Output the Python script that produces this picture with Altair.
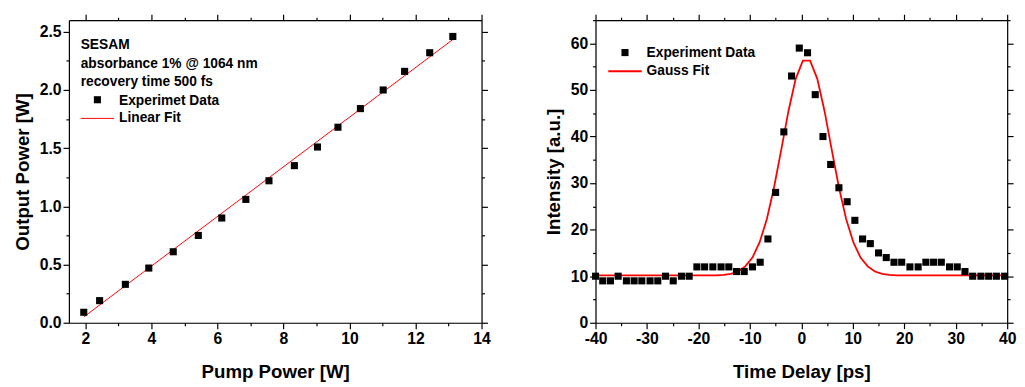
import altair as alt
import pandas as pd

# ---------------- Left panel: output power vs pump power ----------------
pump_power = [1.95, 2.43, 3.21, 3.92, 4.66, 5.42, 6.13, 6.86, 7.56, 8.33,
              9.03, 9.65, 10.33, 11.02, 11.67, 12.43, 13.13]
output_power = [0.09, 0.19, 0.33, 0.47, 0.61, 0.75, 0.90, 1.06, 1.22, 1.35,
                1.51, 1.68, 1.84, 2.00, 2.16, 2.32, 2.46]
linfit_x = [1.95, 13.16]
linfit_y = [0.05, 2.44]
left_notes = ["SESAM", "absorbance 1% @ 1064 nm", "recovery time 500 fs"]
left_legend = ["Experimet Data", "Linear Fit"]
left_xticks = [2, 3, 4, 5, 6, 7, 8, 9, 10, 11, 12, 13, 14]
left_yticks = [0, 0.25, 0.5, 0.75, 1.0, 1.25, 1.5, 1.75, 2.0, 2.25, 2.5]

# ---------------- Right panel: autocorrelation ----------------
delay = [-40.0, -38.6, -37.1, -35.6, -34.0, -32.5, -31.0, -29.4, -27.9, -26.4,
         -24.9, -23.3, -21.8, -20.3, -18.8, -17.2, -15.6, -14.1, -12.6, -11.1,
         -9.5, -8.0, -6.5, -5.0, -3.4, -1.9, -0.4, 1.2, 2.7, 4.2,
         5.7, 7.3, 8.9, 10.4, 11.9, 13.4, 15.0, 16.5, 18.0, 19.5,
         21.1, 22.7, 24.2, 25.7, 27.2, 28.8, 30.3, 31.8, 33.3, 34.9,
         36.4, 37.9, 39.5]
intensity = [10, 9, 9, 10, 9, 9, 9, 9, 9, 10,
             9, 10, 10, 12, 12, 12, 12, 12, 11, 11,
             12, 13, 18, 28, 41, 53, 59, 58, 49, 40,
             34, 29, 26, 22, 18, 17, 15, 14, 13, 13,
             12, 12, 13, 13, 13, 12, 12, 11, 10, 10,
             10, 10, 10]
gauss_x = [-40, -16.5, -15.1, -13.7, -12.3, -10.9, -9.5, -8.1, -6.7, -5.3,
           -3.9, -2.5, -1.1, 0.3, 1.7, 3.1, 4.5, 5.9, 7.3, 8.7,
           10.1, 11.5, 12.9, 14.3, 15.7, 17.1, 18.5, 40]
gauss_y = [10.2, 10.2, 10.3, 10.5, 11.0, 12.1, 14.0, 17.3, 22.3, 29.1,
           37.2, 45.5, 52.4, 56.3, 56.3, 52.4, 45.5, 37.2, 29.1, 22.3,
           17.3, 14.0, 12.1, 11.0, 10.5, 10.3, 10.2, 10.2]
right_legend = ["Experiment Data", "Gauss Fit"]
right_xticks = [-40, -35, -30, -25, -20, -15, -10, -5, 0, 5, 10, 15, 20, 25, 30, 35, 40]
right_yticks = [0, 5, 10, 15, 20, 25, 30, 35, 40, 45, 50, 55, 60, 65]

FONT = "Liberation Sans"
W, H = 420, 308
MARK = 52


def make_axis(values, major, fmt, orient, title=None, labels=True, tpad=8):
    kw = dict(values=values, orient=orient, grid=False, ticks=True,
              tickSize={"condition": {"test": major, "value": 6}, "value": 3},
              tickColor="black", tickWidth=1.2, domainColor="black", domainWidth=1.2,
              labels=labels)
    if labels:
        kw.update(labelExpr=f"{major} ? {fmt} : ''", labelFont=FONT, labelFontSize=16,
                  labelFontWeight="bold", labelColor="black", labelPadding=2,
                  labelFlush=False, labelOverlap=False)
    if title:
        kw.update(title=title, titleFont=FONT, titleFontSize=19, titleFontWeight="bold",
                  titleColor="black", titlePadding=tpad)
    else:
        kw["title"] = None
    return alt.Axis(**kw)


def text_layer(txt, x, y, size=14):
    return alt.Chart(pd.DataFrame({"t": [txt]})).mark_text(
        align="left", baseline="middle", font=FONT, fontSize=size,
        fontWeight="bold", color="black"
    ).encode(x=alt.value(x), y=alt.value(y), text="t:N")


def sym_square(x, y):
    return alt.Chart(pd.DataFrame({"s": [0]})).mark_square(
        size=MARK, color="black", opacity=1
    ).encode(x=alt.value(x), y=alt.value(y))


def sym_line(x1, x2, y, width):
    return alt.Chart(pd.DataFrame({"s": [0]})).mark_rule(
        color="#ff0000", strokeWidth=width
    ).encode(x=alt.value(x1), x2=alt.value(x2), y=alt.value(y))


# ---------- left chart ----------
lx = alt.Scale(domain=[1.5, 14], nice=False, zero=False)
ly = alt.Scale(domain=[0, 2.6], nice=False, zero=False)

left_pts = alt.Chart(pd.DataFrame({"x": pump_power, "y": output_power})).mark_square(
    size=MARK, color="black", opacity=1
).encode(
    x=alt.X("x:Q", scale=lx, axis=make_axis(left_xticks, "datum.value % 2 === 0",
                                            "'' + datum.value", "bottom", "Pump Power [W]", tpad=17)),
    y=alt.Y("y:Q", scale=ly, axis=make_axis(left_yticks, "datum.value % 0.5 === 0",
                                            "format(datum.value, '.1f')", "left", "Output Power [W]", tpad=7)),
)
left_fit = alt.Chart(pd.DataFrame({"x": linfit_x, "y": linfit_y})).mark_line(
    color="#ff0000", strokeWidth=1
).encode(
    x=alt.X("x:Q", scale=lx, axis=make_axis(left_xticks, "datum.value % 2 === 0", "", "top", labels=False)),
    y=alt.Y("y:Q", scale=ly, axis=make_axis(left_yticks, "datum.value % 0.5 === 0", "", "right", labels=False)),
)

left = alt.layer(
    left_fit, left_pts,
    text_layer(left_notes[0], 12, 25),
    text_layer(left_notes[1], 12, 45),
    text_layer(left_notes[2], 12, 63),
    sym_square(29, 81),
    text_layer(left_legend[0], 51, 82),
    sym_line(12, 46, 100, 1),
    text_layer(left_legend[1], 51, 100),
).resolve_axis(x="independent", y="independent").properties(width=W, height=H)

# ---------- right chart ----------
rx = alt.Scale(domain=[-40, 40], nice=False, zero=False)
ry = alt.Scale(domain=[0, 65], nice=False, zero=False)

right_pts = alt.Chart(pd.DataFrame({"x": delay, "y": intensity})).mark_square(
    size=MARK, color="black", opacity=1
).encode(
    x=alt.X("x:Q", scale=rx, axis=make_axis(right_xticks, "datum.value % 10 === 0",
                                            "'' + datum.value", "bottom", "Time Delay [ps]", tpad=17)),
    y=alt.Y("y:Q", scale=ry, axis=make_axis(right_yticks, "datum.value % 10 === 0",
                                            "'' + datum.value", "left", "Intensity [a.u.]", tpad=7)),
)
right_fit = alt.Chart(pd.DataFrame({"x": gauss_x, "y": gauss_y})).mark_line(
    color="#ff0000", strokeWidth=1.8
).encode(
    x=alt.X("x:Q", scale=rx, axis=make_axis(right_xticks, "datum.value % 10 === 0", "", "top", labels=False)),
    y=alt.Y("y:Q", scale=ry, axis=make_axis(right_yticks, "datum.value % 10 === 0", "", "right", labels=False)),
)

right = alt.layer(
    right_fit, right_pts,
    sym_square(30, 33),
    text_layer(right_legend[0], 52, 33),
    sym_line(13, 47, 52, 1.8),
    text_layer(right_legend[1], 52, 52),
).resolve_axis(x="independent", y="independent").properties(width=W - 1, height=H)

chart = alt.hconcat(left, right, spacing=53).properties(
    padding={"left": 5, "top": 0, "right": 0, "bottom": 0}
).configure_view(
    stroke="black", strokeWidth=1.2
).configure(background="white")

chart.save("out.html", embed_options={"renderer": "svg", "actions": False})
